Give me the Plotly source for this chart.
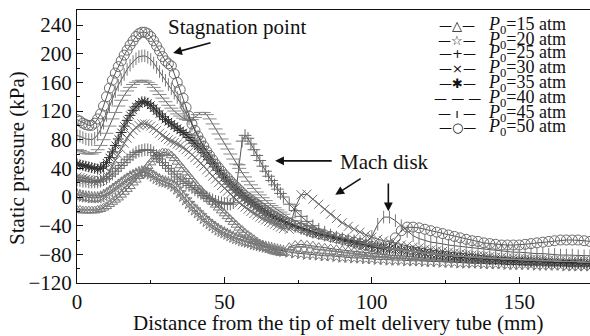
import plotly.graph_objects as go

# ---------------- data ----------------
X_MM = [0, 1, 2, 3, 4, 5, 6, 7, 8, 9,
        10, 11, 12, 13, 14, 15, 16, 17, 18, 19,
        20, 21, 22, 23, 24, 25, 26, 27, 28, 29,
        30, 31, 32, 33, 34, 35, 36, 37, 38, 39,
        40, 41, 42, 43, 44, 45, 46, 47, 48, 49,
        50, 51, 52, 53, 54, 55, 56, 57, 58, 59,
        60, 61, 62, 63, 64, 65, 66, 67, 68, 69,
        70,
        72, 74, 76, 78, 80, 82, 84, 86, 88, 90,
        92, 94, 96, 98, 100, 102, 104, 106, 108, 110,
        112, 114, 116, 118, 120, 122, 124, 126, 128, 130,
        132, 134, 136, 138, 140, 142, 144, 146, 148, 150,
        152, 154, 156, 158, 160, 162, 164, 166, 168, 170,
        172, 174]

P15 = [-18, -18, -19, -19, -19, -19, -19, -18, -17, -15,
       -13, -10, -7, -4, -1, 3, 7, 11, 15, 20,
       24, 29, 33, 38, 43, 48, 53, 57, 60, 62,
       62, 61, 58, 54, 49, 44, 39, 34, 29, 24,
       19, 14, 10, 5, 1, -3, -7, -11, -15, -19,
       -23, -27, -31, -35, -39, -43, -46, -50, -53, -56,
       -59, -62, -65, -67, -70, -72, -74, -76, -77, -78,
       -78,
       -70, -67, -66, -67, -68, -70, -71, -72, -73, -74,
       -75, -76, -77, -78, -79, -80, -80, -81, -82, -82,
       -83, -84, -84, -85, -85, -86, -86, -87, -87, -88,
       -88, -89, -89, -89, -90, -90, -90, -91, -91, -91,
       -92, -92, -92, -92, -93, -93, -93, -93, -94, -94,
       -94, -94]

P20 = [3, 2, 1, 0, 0, -1, -1, -1, 0, 2,
       4, 7, 10, 13, 16, 19, 22, 25, 28, 30,
       32, 34, 35, 35, 34, 32, 29, 26, 24, 22,
       21, 20, 18, 15, 11, 6, 1, -4, -9, -14,
       -18, -22, -26, -30, -34, -37, -40, -43, -46, -48,
       -50, -52, -54, -56, -58, -59, -61, -62, -63, -64,
       -66, -67, -68, -69, -70, -71, -72, -73, -74, -75,
       -76,
       -77, -78, -79, -80, -80, -81, -82, -82, -83, -84,
       -84, -85, -85, -86, -86, -87, -87, -88, -88, -88,
       -89, -89, -89, -90, -90, -90, -91, -91, -91, -92,
       -92, -92, -92, -93, -93, -93, -93, -94, -94, -94,
       -94, -94, -95, -95, -95, -95, -95, -96, -96, -96,
       -96, -96]

P25 = [24, 23, 22, 22, 21, 21, 21, 21, 22, 24,
       26, 29, 32, 36, 40, 44, 48, 52, 56, 59,
       62, 64, 65, 66, 66, 65, 62, 58, 53, 48,
       44, 40, 36, 32, 28, 25, 22, 19, 16, 13,
       10, 7, 5, 2, 0, -2, -4, -6, -7, -8,
       -9, -10, -10, -8, 10, 45, 78, 86, 82, 74,
       66, 58, 51, 43, 36, 29, 23, 17, 11, 5,
       0,
       -10, -19, -27, -34, -40, -45, -49, -53, -56, -59,
       -61, -63, -65, -67, -68, -70, -71, -72, -73, -74,
       -75, -76, -77, -78, -79, -80, -81, -81, -82, -83,
       -83, -84, -85, -85, -86, -86, -87, -87, -88, -88,
       -88, -89, -89, -89, -90, -90, -90, -91, -91, -91,
       -91, -92]

P30 = [28, 27, 26, 25, 24, 23, 22, 22, 23, 26,
       30, 36, 43, 51, 59, 67, 75, 82, 88, 93,
       97, 100, 102, 102, 101, 99, 96, 93, 89, 86,
       83, 80, 78, 76, 74, 72, 69, 66, 63, 59,
       55, 51, 47, 43, 38, 34, 29, 25, 20, 16,
       12, 8, 4, 0, -4, -8, -11, -14, -17, -20,
       -23, -25, -28, -30, -32, -34, -36, -38, -40, -42,
       -44,
       -45, -15, 3, 4, -3, -10, -17, -24, -30, -36,
       -41, -45, -49, -53, -56, -59, -61, -63, -65, -67,
       -68, -70, -71, -73, -74, -75, -76, -77, -78, -79,
       -80, -81, -82, -82, -83, -84, -84, -85, -85, -86,
       -86, -87, -87, -87, -88, -88, -88, -89, -89, -89,
       -89, -90]

P35 = [46, 45, 44, 43, 42, 41, 40, 39, 40, 43,
       48, 55, 63, 72, 81, 90, 99, 107, 114, 121,
       126, 130, 133, 133, 131, 128, 124, 120, 116, 112,
       108, 105, 102, 99, 96, 93, 90, 87, 83, 79,
       75, 71, 67, 62, 57, 52, 47, 42, 37, 32,
       27, 22, 18, 14, 10, 6, 2, -1, -4, -7,
       -10, -13, -16, -19, -21, -24, -26, -28, -30, -32,
       -34,
       -38, -41, -44, -47, -50, -52, -54, -56, -58, -60,
       -62, -64, -66, -67, -69, -70, -71, -72, -73, -74,
       -75, -76, -77, -78, -79, -80, -81, -82, -83, -84,
       -84, -85, -86, -86, -87, -87, -88, -88, -89, -89,
       -89, -90, -90, -90, -91, -91, -91, -92, -92, -92,
       -92, -93]

P40 = [66, 65, 63, 61, 60, 60, 62, 66, 72, 80,
       89, 99, 109, 118, 127, 135, 142, 148, 153, 157,
       160, 162, 163, 162, 160, 157, 153, 148, 143, 138,
       133, 128, 124, 120, 116, 113, 110, 108, 107, 108,
       111, 115, 118, 118, 115, 109, 102, 95, 88, 81,
       74, 67, 60, 53, 46, 40, 34, 28, 22, 17,
       12, 7, 3, -1, -5, -9, -12, -15, -18, -21,
       -24,
       -29, -33, -37, -41, -44, -47, -50, -53, -55, -57,
       -59, -61, -63, -65, -67, -69, -70, -72, -73, -74,
       -75, -76, -77, -78, -79, -80, -81, -81, -82, -83,
       -83, -84, -84, -85, -85, -86, -86, -87, -87, -87,
       -88, -88, -88, -89, -89, -89, -90, -90, -90, -90,
       -91, -91]

P45 = [86, 85, 83, 81, 80, 80, 82, 87, 94, 103,
       114, 126, 137, 147, 156, 164, 171, 178, 184, 189,
       193, 196, 197, 197, 195, 192, 187, 181, 175, 169,
       163, 157, 151, 145, 139, 132, 125, 117, 109, 100,
       92, 84, 77, 70, 63, 56, 50, 44, 38, 33,
       28, 23, 18, 14, 10, 6, 2, -2, -5, -8,
       -11, -14, -17, -20, -22, -25, -27, -29, -31, -33,
       -35,
       -38, -41, -44, -47, -49, -51, -53, -55, -57, -58,
       -60, -61, -62, -63, -55, -38, -28, -28, -33, -40,
       -48, -54, -58, -61, -63, -64, -66, -67, -68, -69,
       -70, -71, -72, -73, -74, -75, -75, -76, -77, -77,
       -78, -78, -79, -79, -80, -80, -81, -81, -81, -82,
       -82, -82]

P50 = [108, 106, 103, 101, 100, 100, 103, 109, 116, 127,
       140, 152, 163, 173, 182, 190, 198, 205, 212, 218,
       224, 228, 230, 230, 228, 224, 218, 211, 204, 196,
       190, 186, 183, 172, 160, 150, 138, 125, 113, 102,
       93, 85, 78, 71, 64, 58, 52, 46, 41, 36,
       31, 27, 22, 18, 14, 10, 6, 2, -1, -4,
       -7, -10, -13, -16, -19, -22, -25, -27, -30, -32,
       -34,
       -37, -40, -43, -46, -49, -51, -53, -55, -57, -59,
       -61, -63, -65, -67, -69, -71, -73, -68, -57, -47,
       -42, -42, -43, -45, -47, -49, -51, -53, -55, -57,
       -59, -61, -62, -64, -65, -66, -67, -67, -67, -67,
       -66, -65, -64, -63, -62, -61, -60, -60, -60, -60,
       -61, -62]

PRESSURES = ["15", "20", "25", "30", "35", "40", "45", "50"]
SERIES = [P15, P20, P25, P30, P35, P40, P45, P50]

# ---------------- styles ----------------
FONT = "Liberation Serif"
SYMBOLS = ["triangle-up-open", "star-open", "cross-thin-open", "x-thin-open",
           "asterisk-open", "line-ew-open", "line-ns-open", "circle-open"]
MSIZES = [9, 9, 9, 9, 9, 10, 9, 10]
MCOLORS = ["#7a7a7a", "#7a7a7a", "#6a6a6a", "#707070",
           "#303030", "#8a8a8a", "#7a7a7a", "#6a6a6a"]
LEGEND_GLYPHS = ["—△—", "—☆—", "—+—", "—×—", "—✱—", "— — —", "— ı —", "—○—"]

fig = go.Figure()
for p, ys, sym, ms, mc in zip(PRESSURES, SERIES, SYMBOLS, MSIZES, MCOLORS):
    fig.add_trace(go.Scatter(
        x=X_MM, y=ys, mode="lines+markers", name=f"P0={p} atm",
        line=dict(color="#2a2a2a", width=0.8),
        marker=dict(symbol=sym, size=ms, color=mc, line=dict(color=mc, width=1)),
        showlegend=False,
    ))

annotations = []
# manual legend rows (top right)
ROW_Y = [0.945, 0.890, 0.839, 0.787, 0.732, 0.677, 0.622, 0.571]
for p, glyph, ry in zip(PRESSURES, LEGEND_GLYPHS, ROW_Y):
    annotations.append(dict(xref="paper", yref="paper", x=0.741, y=ry,
                            text=glyph, showarrow=False, xanchor="center",
                            yanchor="middle",
                            font=dict(family="DejaVu Sans", size=13, color="#111")))
    annotations.append(dict(xref="paper", yref="paper", x=0.797, y=ry,
                            text=f"<i>P</i><sub>0</sub>={p} atm", showarrow=False,
                            xanchor="left", yanchor="middle",
                            font=dict(family=FONT, size=18, color="#111")))

# axis titles
annotations.append(dict(xref="paper", yref="paper", x=0.51, y=-0.145,
                        text="Distance from the tip of melt delivery tube (mm)",
                        showarrow=False, xanchor="center", yanchor="middle",
                        font=dict(family=FONT, size=21, color="#111")))
annotations.append(dict(xref="paper", yref="paper", x=-0.117, y=0.458,
                        text="Static pressure (kPa)", textangle=-90,
                        showarrow=False, xanchor="center", yanchor="middle",
                        font=dict(family=FONT, size=21, color="#111")))

# text labels
annotations.append(dict(x=54.3, y=237, xref="x", yref="y", text="Stagnation point",
                        showarrow=False, font=dict(family=FONT, size=21, color="#111")))
annotations.append(dict(x=104.2, y=49, xref="x", yref="y", text="Mach disk",
                        showarrow=False, font=dict(family=FONT, size=21, color="#111")))

# arrows (head at x,y; tail at ax,ay)
ARROWS = [(32.6, 201, 45.8, 216), (67.2, 50.5, 86.9, 50.5),
          (87.6, 3, 96.7, 27), (105.6, -20, 105.6, 21)]
for hx, hy, tx, ty in ARROWS:
    annotations.append(dict(x=hx, y=hy, ax=tx, ay=ty, xref="x", yref="y",
                            axref="x", ayref="y", text="", showarrow=True,
                            arrowhead=2, arrowsize=1.1, arrowwidth=1.6, arrowcolor="#111"))

fig.update_layout(
    width=590, height=336,
    margin=dict(l=77, r=0, t=10, b=53),
    paper_bgcolor="white", plot_bgcolor="white",
    font=dict(family=FONT, size=21, color="#111"),
    annotations=annotations,
)
fig.update_xaxes(
    range=[0, 174], tickmode="linear", tick0=0, dtick=50,
    ticks="inside", ticklen=6, tickcolor="#111",
    minor=dict(dtick=25, ticks="inside", ticklen=3, tickcolor="#111"),
    showline=True, linecolor="#111", linewidth=1, mirror=True,
    showgrid=False, zeroline=False,
    tickfont=dict(family=FONT, size=21),
)
fig.update_yaxes(
    range=[-120, 261], tickmode="linear", tick0=0, dtick=40,
    ticks="inside", ticklen=6, tickcolor="#111",
    minor=dict(dtick=20, ticks="inside", ticklen=3, tickcolor="#111"),
    showline=True, linecolor="#111", linewidth=1, mirror=True,
    showgrid=False, zeroline=False,
    tickfont=dict(family=FONT, size=21),
)

fig.write_html("out.html")
